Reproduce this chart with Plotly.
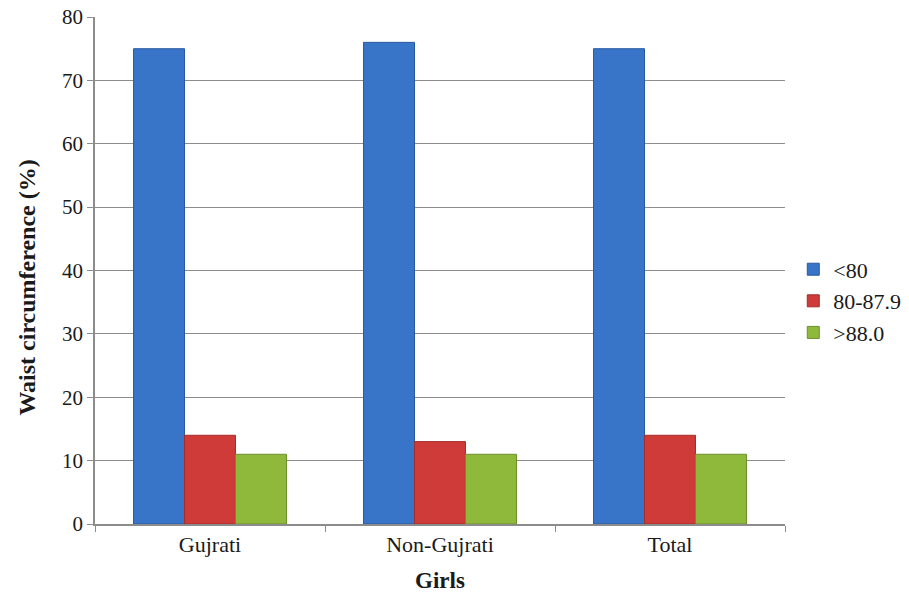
import plotly.graph_objects as go

categories = ["Gujrati", "Non-Gujrati", "Total"]
series_names = ["<80", "80-87.9", ">88.0"]
below_80 = [75, 76, 75]
from_80_to_87 = [14, 13, 14]
above_88 = [11, 11, 11]
y_ticks = [0, 10, 20, 30, 40, 50, 60, 70, 80]

colors = ["#3874C8", "#CE3B38", "#8FB93B"]
edges = ["#2A5A9E", "#A32D2B", "#6E8F2C"]

serif = "Liberation Serif"

fig = go.Figure()
for name, vals, c, e in zip(series_names, [below_80, from_80_to_87, above_88], colors, edges):
    fig.add_trace(go.Bar(
        x=categories, y=vals, name=name,
        marker=dict(color=c, line=dict(color=e, width=1)),
    ))

fig.update_layout(
    width=909, height=613,
    margin=dict(l=95, r=124, t=17, b=89, autoexpand=False),
    paper_bgcolor="white", plot_bgcolor="white",
    barmode="group", bargap=0.335, bargroupgap=0,
    font=dict(family=serif, size=20, color="#1a1a1a"),
    showlegend=True,
    legend=dict(x=1.012, y=0.44, xanchor="left", yanchor="middle",
                font=dict(family=serif, size=22, color="#1a1a1a"),
                itemwidth=30, traceorder="normal"),
    xaxis=dict(
        automargin=False,
        showline=True, linecolor="#8c8c8c", linewidth=1.5,
        ticks="outside", ticklen=6, tickcolor="#8c8c8c",
        tickson="boundaries",
        title=dict(text="<b>Girls</b>", font=dict(family=serif, size=23), standoff=16),
        tickfont=dict(family=serif, size=22),
    ),
    yaxis=dict(
        automargin=False,
        range=[0, 80], tickvals=y_ticks,
        showline=True, linecolor="#8c8c8c", linewidth=1.5,
        ticks="outside", ticklen=6, tickcolor="#8c8c8c",
        showgrid=True, gridcolor="#8c8c8c", gridwidth=1,
        zeroline=False,
        tickfont=dict(family=serif, size=21),
    ),
    annotations=[dict(
        text="<b>Waist circumference (%)</b>", textangle=-90,
        xref="paper", yref="paper", x=-0.098, y=0.467,
        xanchor="center", yanchor="middle", showarrow=False,
        font=dict(family=serif, size=24, color="#1a1a1a"),
    )],
)

fig.write_html("out.html")
